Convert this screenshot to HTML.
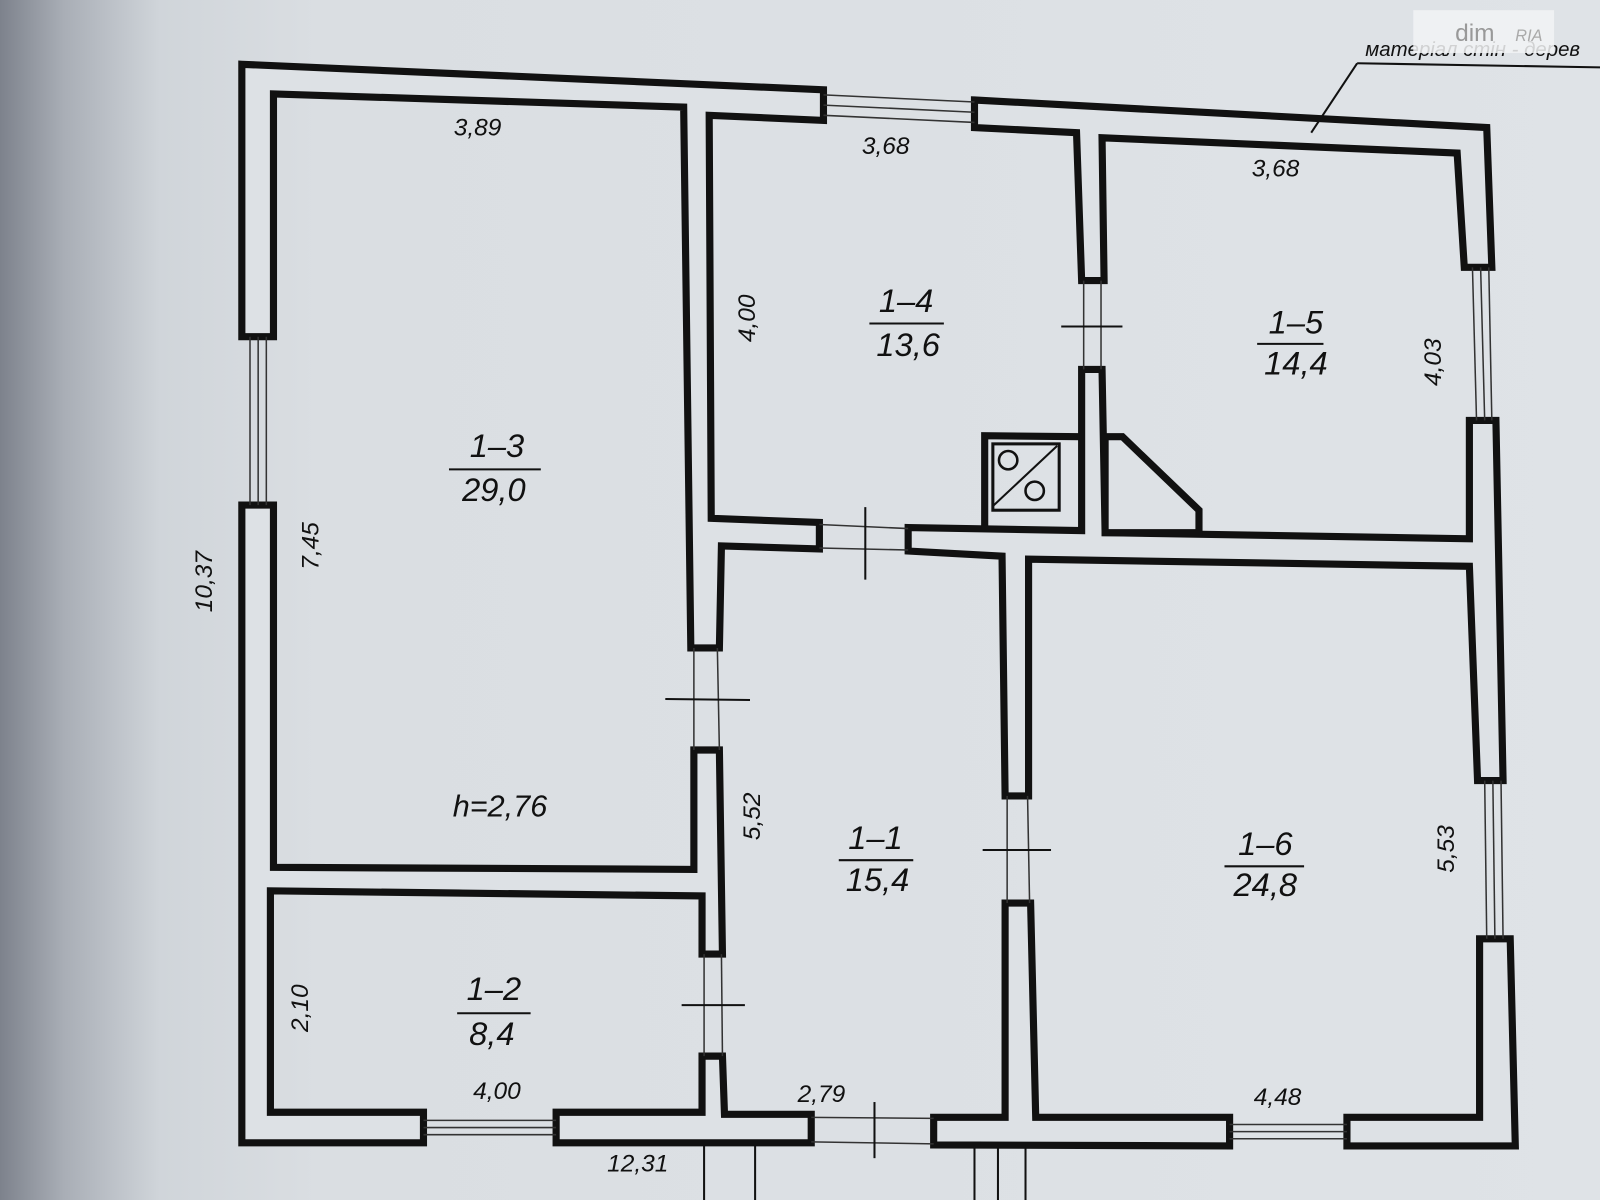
<!DOCTYPE html>
<html><head><meta charset="utf-8"><style>
html,body{margin:0;padding:0;width:1600px;height:1200px;overflow:hidden;background:#dde1e5}
svg{display:block}
text{font-family:"Liberation Sans","DejaVu Sans",sans-serif;font-style:italic;fill:#111}
</style></head><body>
<svg width="1600" height="1200" viewBox="0 0 1568 1176" preserveAspectRatio="none" xmlns="http://www.w3.org/2000/svg">
<defs>
<linearGradient id="bg" x1="0" x2="1" y1="0" y2="0">
<stop offset="0" stop-color="#7d828c"/><stop offset="0.04" stop-color="#a9aeb6"/><stop offset="0.1" stop-color="#d0d5da"/><stop offset="0.2" stop-color="#dadee2"/><stop offset="1" stop-color="#dfe3e7"/>
</linearGradient>
</defs>
<rect width="1568" height="1176" fill="url(#bg)"/>
<g fill="#dde1e5" stroke="#111" stroke-width="7" stroke-linejoin="miter">
<polygon points="237,63 807,88 807,118 695,113 697,508 803,512 803,538 707,535 705,635 677,635 670,105 268,92 268,330 237,330"/>
<polygon points="237,495 268,495 268,850 680,852 680,735 705,735 708,935 688,935 688,878 265,873 265,1090 415,1090 415,1120 237,1120"/>
<polygon points="545,1090 688,1090 688,1035 708,1035 710,1092 795,1092 795,1120 545,1120"/>
<polygon points="915,1095 985,1095 985,885 1010,885 1015,1095 1205,1095 1205,1123 915,1122"/>
<polygon points="1320,1095 1450,1095 1450,920 1480,920 1485,1123 1320,1123"/>
<polygon points="890,517 1060,520 1060,362 1080,362 1083,522 1440,528 1440,412 1466,412 1473,765 1448,765 1440,555 1008,548 1008,780 985,780 982,545 890,540"/>
<polygon points="955,98 1457,125 1462,262 1435,262 1428,150 1080,135 1082,275 1060,275 1055,130 955,125"/>
</g>
<g stroke="#333" stroke-width="1.5" fill="none">
<line x1="807" y1="93" x2="955" y2="100"/><line x1="807" y1="103" x2="955" y2="110"/><line x1="807" y1="113" x2="955" y2="120"/>
<line x1="245" y1="330" x2="245" y2="495"/><line x1="253" y1="330" x2="253" y2="495"/><line x1="261" y1="330" x2="261" y2="495"/>
<line x1="415" y1="1098" x2="545" y2="1098"/><line x1="415" y1="1105" x2="545" y2="1105"/><line x1="415" y1="1112" x2="545" y2="1112"/>
<line x1="1205" y1="1102" x2="1320" y2="1102"/><line x1="1205" y1="1109" x2="1320" y2="1109"/><line x1="1205" y1="1116" x2="1320" y2="1116"/>
<line x1="1443" y1="262" x2="1447" y2="412"/><line x1="1451" y1="262" x2="1455" y2="412"/><line x1="1459" y1="262" x2="1462" y2="412"/>
<line x1="1455" y1="765" x2="1457" y2="920"/><line x1="1463" y1="765" x2="1465" y2="920"/><line x1="1471" y1="765" x2="1473" y2="920"/>
<line x1="680" y1="635" x2="680" y2="735"/><line x1="703" y1="635" x2="705" y2="735"/>
<line x1="690" y1="935" x2="690" y2="1035"/><line x1="707" y1="935" x2="708" y2="1035"/>
<line x1="987" y1="780" x2="987" y2="885"/><line x1="1007" y1="780" x2="1009" y2="885"/>
<line x1="1062" y1="275" x2="1062" y2="362"/><line x1="1079" y1="275" x2="1079" y2="362"/>
<line x1="803" y1="514" x2="890" y2="518"/><line x1="803" y1="537" x2="890" y2="539"/>
<line x1="795" y1="1095" x2="915" y2="1096"/><line x1="795" y1="1119" x2="915" y2="1121"/>
</g>
<g stroke="#111" stroke-width="2">
<line x1="652" y1="685" x2="735" y2="686"/>
<line x1="668" y1="985" x2="730" y2="985"/>
<line x1="963" y1="833" x2="1030" y2="833"/>
<line x1="1040" y1="320" x2="1100" y2="320"/>
<line x1="848" y1="497" x2="848" y2="568"/>
<line x1="857" y1="1080" x2="857" y2="1135"/>
<line x1="1285" y1="130" x2="1330" y2="62"/><line x1="1330" y1="62" x2="1568" y2="66"/>
<line x1="690" y1="1123" x2="690" y2="1176"/><line x1="740" y1="1123" x2="740" y2="1176"/>
<line x1="955" y1="1123" x2="955" y2="1176"/><line x1="978" y1="1123" x2="978" y2="1176"/><line x1="1005" y1="1123" x2="1005" y2="1176"/>
</g>
<g fill="none" stroke="#111">
<polyline points="965,517 965,427 1058,428" stroke-width="7"/>
<rect x="973" y="435" width="65" height="65" stroke-width="3"/>
<line x1="973" y1="496" x2="1036" y2="437" stroke-width="2"/>
<circle cx="988" cy="451" r="9" stroke-width="2.5"/><circle cx="1014" cy="481" r="9" stroke-width="2.5"/>
<polygon points="1083,428 1100,428 1175,500 1175,522 1083,522" stroke-width="7" fill="#dde1e5"/>
</g>
<g font-size="24" text-anchor="middle">
<text x="468" y="133">3,89</text>
<text x="868" y="151">3,68</text>
<text x="1250" y="173">3,68</text>
<text x="487" y="1077">4,00</text>
<text x="805" y="1080">2,79</text>
<text x="1252" y="1083">4,48</text>
<text x="625" y="1148">12,31</text>
<text x="490" y="800" font-size="30">h=2,76</text>
<text transform="translate(208,570) rotate(-90)">10,37</text>
<text transform="translate(312,535) rotate(-90)">7,45</text>
<text transform="translate(740,312) rotate(-90)">4,00</text>
<text transform="translate(1412,355) rotate(-90)">4,03</text>
<text transform="translate(745,800) rotate(-90)">5,52</text>
<text transform="translate(1425,832) rotate(-90)">5,53</text>
<text transform="translate(302,988) rotate(-90)">2,10</text>
</g>
<g font-size="32" text-anchor="middle">
<text x="487" y="448">1–3</text><text x="484" y="491">29,0</text>
<text x="888" y="306">1–4</text><text x="890" y="349">13,6</text>
<text x="1270" y="327">1–5</text><text x="1270" y="367">14,4</text>
<text x="858" y="832">1–1</text><text x="860" y="873">15,4</text>
<text x="1240" y="838">1–6</text><text x="1240" y="878">24,8</text>
<text x="484" y="980">1–2</text><text x="482" y="1024">8,4</text>
</g>
<g stroke="#111" stroke-width="2">
<line x1="440" y1="460" x2="530" y2="460"/>
<line x1="852" y1="317" x2="925" y2="317"/>
<line x1="1232" y1="337" x2="1297" y2="337"/>
<line x1="822" y1="843" x2="895" y2="843"/>
<line x1="1200" y1="849" x2="1278" y2="849"/>
<line x1="448" y1="993" x2="520" y2="993"/>
</g>
<text x="1338" y="55" font-size="20">матеріал стін - дерев</text>
<rect x="1385" y="10" width="138" height="42" fill="#f2f3f4" opacity="0.85"/>
<text x="1426" y="40" font-size="24" style="fill:#999;font-style:normal">dim</text>
<text x="1485" y="40" font-size="16" style="fill:#aaa">RIA</text>
</svg>
</body></html>
